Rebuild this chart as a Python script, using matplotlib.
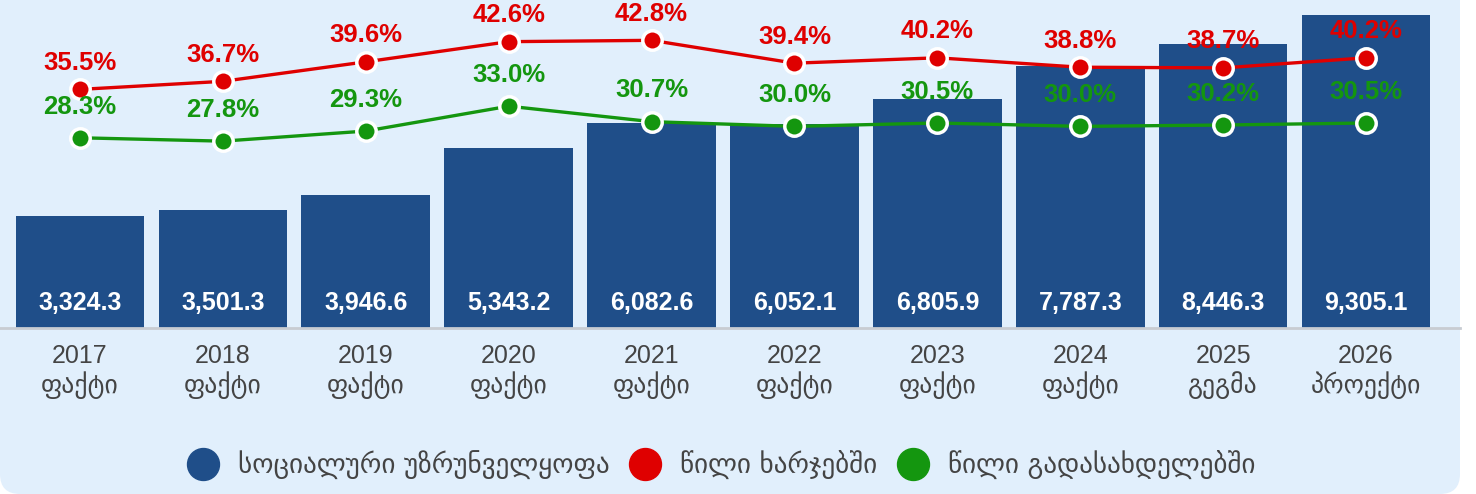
import matplotlib
matplotlib.use("Agg")
import matplotlib.pyplot as plt
from matplotlib.patches import FancyBboxPatch
from matplotlib.lines import Line2D
import matplotlib.transforms as mtransforms

years = ["2017", "2018", "2019", "2020", "2021", "2022", "2023", "2024", "2025", "2026"]
status = ["ფაქტი", "ფაქტი", "ფაქტი", "ფაქტი", "ფაქტი", "ფაქტი", "ფაქტი", "ფაქტი", "გეგმა", "პროექტი"]
social = [3324.3, 3501.3, 3946.6, 5343.2, 6082.6, 6052.1, 6805.9, 7787.3, 8446.3, 9305.1]
share_exp = [35.5, 36.7, 39.6, 42.6, 42.8, 39.4, 40.2, 38.8, 38.7, 40.2]
share_tax = [28.3, 27.8, 29.3, 33.0, 30.7, 30.0, 30.5, 30.0, 30.2, 30.5]
legend_labels = ["სოციალური უზრუნველყოფა", "წილი ხარჯებში", "წილი გადასახდელებში"]

BLUE = "#1F4E89"
RED = "#DF0000"
GREEN = "#14960F"
BG = "#E1EFFC"
TXT = "#444444"

plt.rcParams['font.family'] = ['Liberation Sans', 'DejaVu Sans']

W, H = 1476, 494
fig = plt.figure(figsize=(W / 100, H / 100), dpi=100)
fig.patch.set_facecolor("white")
bg = FancyBboxPatch((0, 0), 1460, 540, boxstyle="round,pad=0,rounding_size=20",
                    transform=mtransforms.IdentityTransform(), facecolor=BG, edgecolor="none",
                    zorder=-5)
fig.patches.append(bg)

ax = fig.add_axes([8.5 / W, 166 / H, 1429 / W, 328 / H])
ax.set_facecolor("none")
x = list(range(len(years)))
ax.bar(x, social, width=0.9, color=BLUE, zorder=2)
ax.set_xlim(-0.5, len(years) - 0.5)
YMAX = 9305.1 * 328 / 313
ax.set_ylim(0, YMAX)
for s in ax.spines.values():
    s.set_visible(False)
ax.set_xticks([])
ax.set_yticks([])

for xi, v in zip(x, social):
    ax.text(xi, 25 / 328 * YMAX, f"{v:,.1f}", color="white", fontsize=18, fontweight="bold",
            ha="center", va="center", zorder=3)

# baseline
fig.add_artist(Line2D([0, 1460 / W], [166 / H, 166 / H], color="#C8CCD2", lw=2, zorder=1))

trans = mtransforms.blended_transform_factory(ax.transData, ax.transAxes)
for xi, yr, st in zip(x, years, status):
    ax.text(xi, -28 / 328, yr, color=TXT, fontsize=18, ha="center", va="center", transform=trans,
            family=['Liberation Sans'])
    ax.text(xi, -57 / 328, st, color=TXT, fontsize=18.5, ha="center", va="center", transform=trans,
            family=['DejaVu Sans'])

ax2 = ax.twinx()
ax2.set_ylim(0, 48.8)
ax2.set_yticks([])
for s in ax2.spines.values():
    s.set_visible(False)
ax2.plot(x, share_exp, color=RED, lw=2.4, marker="o", ms=14, mfc=RED, mec="white", mew=2.5, zorder=5)
ax2.plot(x, share_tax, color=GREEN, lw=2.4, marker="o", ms=14, mfc=GREEN, mec="white", mew=2.5, zorder=5)
for xi, v in zip(x, share_exp):
    ax2.annotate(f"{v:.1f}%", (xi, v), xytext=(0, 19), textcoords="offset points",
                 ha="center", va="center", color=RED, fontsize=18.5, fontweight="bold", zorder=6)
for xi, v in zip(x, share_tax):
    ax2.annotate(f"{v:.1f}%", (xi, v), xytext=(0, 22.5), textcoords="offset points",
                 ha="center", va="center", color=GREEN, fontsize=18.5, fontweight="bold", zorder=6)

handles = [Line2D([], [], ls="none", marker="o", ms=23, mfc=c, mec=c) for c in (BLUE, RED, GREEN)]
leg = fig.legend(handles, legend_labels, loc="center", bbox_to_anchor=(721 / W, 1 - 465 / H),
                 ncol=3, frameon=False, handletextpad=0.7, columnspacing=0.7, handlelength=1.2,
                 prop={'family': 'DejaVu Sans', 'size': 19.5})
for t in leg.get_texts():
    t.set_color(TXT)

fig.savefig("out.png", dpi=100, facecolor=fig.get_facecolor())
